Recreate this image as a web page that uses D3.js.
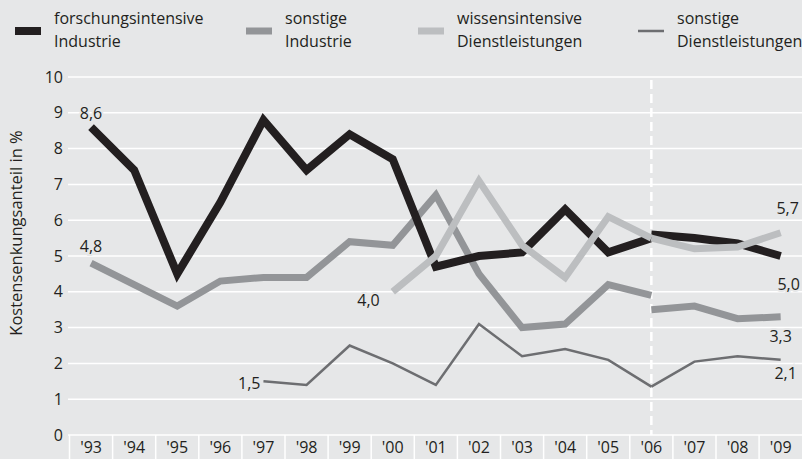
<!DOCTYPE html>
<html><head><meta charset="utf-8">
<script src="https://cdn.jsdelivr.net/npm/d3@7/dist/d3.min.js"></script>
<style>body{margin:0;background:#e6e7e8}svg{display:block}text{font-family:"Open Sans",sans-serif;fill:#231f20}</style>
</head><body><svg id="c" width="802" height="459"></svg>
<script>
const years = ["'93","'94","'95","'96","'97","'98","'99","'00","'01","'02","'03","'04","'05","'06","'07","'08","'09"];
const yTicks = [0,1,2,3,4,5,6,7,8,9,10];
// before the 2006 break
const forschA  = [8.6,7.4,4.5,6.5,8.8,7.4,8.4,7.7,4.7,5.0,5.1,6.3,5.1,5.5,null,null,null];
const sonstIA  = [4.8,4.2,3.6,4.3,4.4,4.4,5.4,5.3,6.7,4.5,3.0,3.1,4.2,3.9,null,null,null];
const wissenA  = [null,null,null,null,null,null,null,4.0,5.0,7.1,5.3,4.4,6.1,5.5,null,null,null];
const sonstDA  = [null,null,null,null,1.5,1.4,2.5,2.0,1.4,3.1,2.2,2.4,2.1,1.35,null,null,null];
// after the 2006 break
const forschB  = [null,null,null,null,null,null,null,null,null,null,null,null,null,5.6,5.5,5.35,5.0];
const sonstIB  = [null,null,null,null,null,null,null,null,null,null,null,null,null,3.5,3.6,3.25,3.3];
const wissenB  = [null,null,null,null,null,null,null,null,null,null,null,null,null,5.5,5.2,5.25,5.65];
const sonstDB  = [null,null,null,null,null,null,null,null,null,null,null,null,null,1.35,2.05,2.2,2.1];
const legendLabels = [["forschungsintensive","Industrie"],["sonstige","Industrie"],["wissensintensive","Dienstleistungen"],["sonstige","Dienstleistungen"]];
const valueLabels = [
  {s:"forschA", i:0, t:"8,6"}, {s:"sonstIA", i:0, t:"4,8"}, {s:"wissenA", i:7, t:"4,0"},
  {s:"sonstDA", i:4, t:"1,5"}, {s:"wissenB", i:16, t:"5,7"}, {s:"forschB", i:16, t:"5,0"},
  {s:"sonstIB", i:16, t:"3,3"}, {s:"sonstDB", i:16, t:"2,1"}
];

const data = {forschA, sonstIA, wissenA, sonstDA, forschB, sonstIB, wissenB, sonstDB};
const BG = "#e6e7e8";
const svg = d3.select("#c");
svg.append("rect").attr("width",802).attr("height",459).attr("fill",BG);

const x = d3.scaleBand().domain(years).range([69.5, 802.2]).padding(0);
const y = d3.scaleLinear().domain([0,10]).range([435, 77]);
const cx = d => x(d) + x.bandwidth()/2;

// grid
svg.append("g").selectAll("line").data(yTicks).join("line")
  .attr("x1",68).attr("x2",802).attr("y1",d=>y(d)).attr("y2",d=>y(d))
  .attr("stroke","#fff").attr("stroke-width",1.5);
svg.append("g").selectAll("text").data(yTicks).join("text")
  .attr("x",63).attr("y",d=>y(d)).attr("dy","0.35em").attr("text-anchor","end")
  .attr("font-size",16).text(d=>d);
// x band separators
svg.append("g").selectAll("line").data(years).join("line")
  .attr("x1",d=>x(d)).attr("x2",d=>x(d)).attr("y1",435).attr("y2",459)
  .attr("stroke","#fff").attr("stroke-width",1.5);
svg.append("g").selectAll("text").data(years).join("text")
  .attr("x",d=>cx(d)).attr("y",447.5).attr("dy","0.35em").attr("text-anchor","middle")
  .attr("font-size",16).text(d=>d);
// y title
svg.append("text").attr("transform","translate(22,233) rotate(-90)")
  .attr("text-anchor","middle").attr("font-size",16.5).text("Kostensenkungsanteil in %");

// break line
svg.append("line").attr("x1",cx("'06")).attr("x2",cx("'06")).attr("y1",80).attr("y2",435)
  .attr("stroke","#fff").attr("stroke-width",2.5).attr("stroke-dasharray","9,5");

const styles = {
  sonstI: {c:"#939598", w:7},
  forsch: {c:"#231f20", w:8},
  wissen: {c:"#bcbec0", w:7},
  sonstD: {c:"#6d6e71", w:2.5}
};
const line = d3.line().defined(d=>d.v!=null).x(d=>cx(d.k)).y(d=>y(d.v));
["sonstI","forsch","wissen","sonstD"].forEach(key=>{
  ["A","B"].forEach(p=>{
    const arr = data[key+p].map((v,i)=>({k:years[i], v}));
    svg.append("path").datum(arr).attr("d",line).attr("fill","none")
      .attr("stroke",styles[key].c).attr("stroke-width",styles[key].w)
      .attr("stroke-linejoin","miter");
  });
});

// value labels
const offs = {"8,6":[0,-14,"middle"],"4,8":[0,-17,"middle"],"4,0":[-13,9,"end"],"1,5":[-3,2,"end"],
  "5,7":[7,-24,"middle"],"5,0":[8,28,"middle"],"3,3":[0,20,"middle"],"2,1":[5,14,"middle"]};
valueLabels.forEach(l=>{
  const v = data[l.s][l.i], o = offs[l.t];
  svg.append("text").attr("x",cx(years[l.i])+o[0]).attr("y",y(v)+o[1]).attr("dy","0.35em")
    .attr("text-anchor",o[2]).attr("font-size",16)
    .attr("stroke",BG).attr("stroke-width",4).attr("paint-order","stroke").text(l.t);
});

// legend
const legX = [15,246,418,638];
const legKeys = ["forsch","sonstI","wissen","sonstD"];
legendLabels.forEach((lab,i)=>{
  const st = styles[legKeys[i]];
  const h = st.w;
  svg.append("rect").attr("x",legX[i]).attr("y",31-h/2).attr("width",26).attr("height",h).attr("fill",st.c);
  const t = svg.append("text").attr("x",legX[i]+39).attr("font-size",16);
  t.append("tspan").attr("x",legX[i]+39).attr("y",24).text(lab[0]);
  t.append("tspan").attr("x",legX[i]+39).attr("y",47).text(lab[1]);
});
</script></body></html>
